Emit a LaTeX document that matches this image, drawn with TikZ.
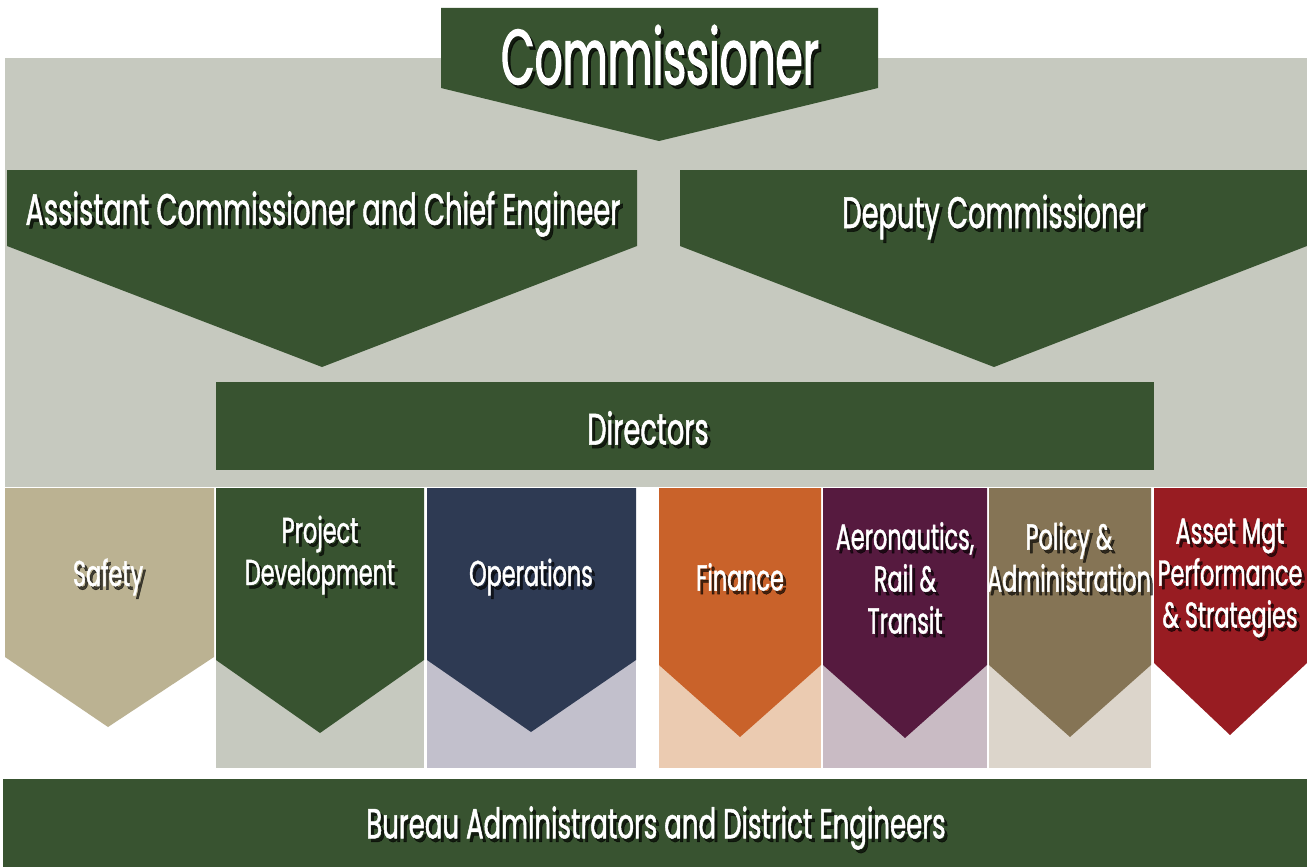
\documentclass[tikz,border=0pt]{standalone}
\usepackage{fontspec}
\setmainfont{Poppins}[FakeStretch=0.62, FakeBold=1.2]
\newfontfamily\narrowfont{Poppins}[FakeStretch=0.56, FakeBold=1.5]

\definecolor{dkgreen}{HTML}{385330}
\definecolor{paneGray}{HTML}{C6C9BF}
\definecolor{safetyTan}{HTML}{BBB292}
\definecolor{opsNavy}{HTML}{2E3A53}
\definecolor{opsLav}{HTML}{C2C0CC}
\definecolor{finOrange}{HTML}{C9622A}
\definecolor{finPeach}{HTML}{EBCBB1}
\definecolor{aeroPurple}{HTML}{561A3F}
\definecolor{aeroPink}{HTML}{C9BBC4}
\definecolor{polBrown}{HTML}{857455}
\definecolor{polBeige}{HTML}{DCD5CB}
\definecolor{assetRed}{HTML}{981C22}

\tikzset{
  lbl/.style={text=white, align=center, inner sep=0pt,
    font=\fontsize{36}{42}\selectfont},
  big/.style={font=\fontsize{44}{50}\selectfont},
  wide/.style={font=\fontsize{42}{50}\selectfont},
  huge/.style={font=\narrowfont\fontsize{78}{88}\selectfont},
}
% white label with a dark drop shadow behind it
\newcommand\shlabel[4]{%
  \node[lbl,#3,text=black,opacity=0.65] (#1-sh) at ([shift={(3,3.5)}]#2) {#4};
  \node[lbl,#3] (#1) at (#2) {#4};}

\begin{document}
\begin{tikzpicture}[x=1pt,y=-1pt]
\useasboundingbox (0,0) rectangle (1307,867);
\fill[white] (0,0) rectangle (1307,867);

% top pane
\fill[paneGray] (5,58) rectangle (1307,487);
\fill[dkgreen] (441,8) -- (878,8) -- (878,88) -- (659,141) -- (441,88) -- cycle;
\fill[dkgreen] (7,170) -- (637,170) -- (637,246) -- (322,367) -- (7,246) -- cycle;
\fill[dkgreen] (680,170) -- (1307,170) -- (1307,246) -- (994,367) -- (680,246) -- cycle;
\fill[dkgreen] (216,382) rectangle (1154,470);

% departments
\fill[safetyTan] (5,488) -- (214,488) -- (214,657) -- (108,727) -- (5,657) -- cycle;

\fill[paneGray] (216,488) rectangle (424,768);
\fill[dkgreen] (216,488) -- (424,488) -- (424,660) -- (320,733) -- (216,660) -- cycle;

\fill[opsLav] (427,488) rectangle (636,768);
\fill[opsNavy] (427,488) -- (636,488) -- (636,660) -- (531,732) -- (427,660) -- cycle;

\fill[finPeach] (659,488) rectangle (821,768);
\fill[finOrange] (659,488) -- (821,488) -- (821,665) -- (740,737) -- (659,665) -- cycle;

\fill[aeroPink] (823,488) rectangle (987,768);
\fill[aeroPurple] (823,488) -- (987,488) -- (987,665) -- (905,738) -- (823,665) -- cycle;

\fill[polBeige] (989,488) rectangle (1151,768);
\fill[polBrown] (989,488) -- (1151,488) -- (1151,665) -- (1070,737) -- (989,665) -- cycle;

\fill[assetRed] (1154,488) -- (1307,488) -- (1307,663) -- (1230,735) -- (1154,663) -- cycle;

% bottom bar
\fill[dkgreen] (3,779) rectangle (1307,867);

% labels
\shlabel{comm}{660,55}{huge}{Commissioner}
\shlabel{asst}{323,214}{big}{Assistant Commissioner and Chief Engineer}
\shlabel{deputy}{994,217}{big}{Deputy Commissioner}
\shlabel{dirs}{648,428}{big}{Directors}
\shlabel{safety}{108,577}{}{Safety}
\shlabel{projdev}{320,555}{}{Project\\Development}
\shlabel{ops}{531,577}{}{Operations}
\shlabel{fin}{740,577}{}{Finance}
\shlabel{aero}{905,578}{}{Aeronautics,\\Rail \&\\Transit}
\shlabel{policy}{1069,557}{}{Policy \&\\Administration}
\shlabel{asset}{1230,578}{}{Asset Mgt\\Performance\\\& Strategies}
\shlabel{bureau}{656,828}{wide}{Bureau Administrators and District Engineers}
\end{tikzpicture}
\end{document}
